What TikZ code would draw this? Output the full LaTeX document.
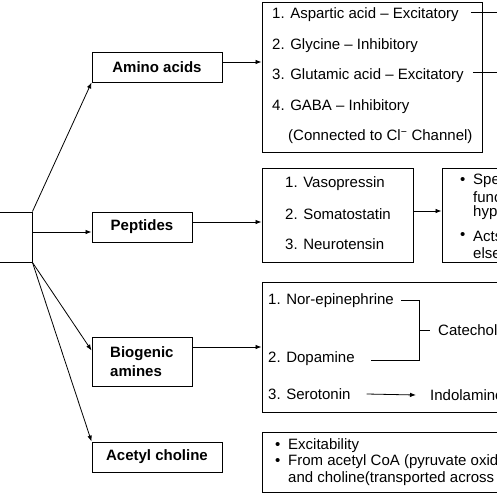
\documentclass[tikz,border=0pt]{standalone}
\usepackage{fontspec}
\setmainfont{Liberation Sans}
\usetikzlibrary{arrows.meta}
\begin{document}
\begin{tikzpicture}[x=1pt,y=-1pt,
  box/.style={draw,line width=0.9pt,inner sep=0pt},
  lbl/.style={font=\fontsize{15}{18}\selectfont\bfseries},
  txt/.style={font=\fontsize{15}{18}\selectfont,anchor=west,inner sep=0pt},
  arr/.style={line width=0.8pt,-{Latex[length=6pt,width=4.5pt]}},
  ln/.style={line width=0.8pt}]
\useasboundingbox (0,0) rectangle (497,497);
\clip (0,0) rectangle (497,497);
% main boxes
\node[box,minimum width=80,minimum height=50] (src) at (-8,237) {};
\node[box,lbl,minimum width=130,minimum height=30] (amino) at (157,67) {Amino acids};
\node[box,lbl,minimum width=100,minimum height=30] (pep) at (142,227) {Peptides};
\node[box,minimum width=100,minimum height=49] (bio) at (142,361.5) {};
\node[lbl,anchor=west,inner sep=0pt,align=left,font=\fontsize{15}{19}\selectfont\bfseries] (biot) at (110,362) {Biogenic\\amines};
\node[box,lbl,minimum width=130,minimum height=30] (ach) at (157,457) {Acetyl choline};
% list boxes
\node[box,minimum width=220,minimum height=150] (L1) at (372,77) {};
\node[box,minimum width=151,minimum height=94] (L2) at (337.5,215) {};
\node[box,minimum width=198,minimum height=94] (R2) at (541,215) {};
\node[box,minimum width=358,minimum height=130] (L3) at (441,347) {};
\node[box,minimum width=458,minimum height=60] (L4) at (491,462) {};
% amino list
\node[txt] (a1) at (272,15) {1. Aspartic acid – Excitatory};
\node[txt] (a2) at (272,46) {2. Glycine – Inhibitory};
\node[txt] (a3) at (272,76) {3. Glutamic acid – Excitatory};
\node[txt] (a4) at (272,107) {4. GABA – Inhibitory};
\node[txt] (a5) at (288,137) {(Connected to Cl\textsuperscript{−} Channel)};
% peptide list
\node[txt] (p1) at (285,184) {1. Vasopressin};
\node[txt] (p2) at (285,214) {2. Somatostatin};
\node[txt] (p3) at (285,244) {3. Neurotensin};
% peptide notes
\node[txt] (rb1) at (460,181) {•};
\node[txt] (r1) at (473,181) {Specific};
\node[txt] (r2) at (473,197) {functions in};
\node[txt] (r3) at (473,213) {hypothalamus};
\node[txt] (rb2) at (460,236) {•};
\node[txt] (r4) at (473,236) {Acts};
\node[txt] (r5) at (473,253) {elsewhere};
% amine list
\node[txt] (b1) at (268,301) {1. Nor-epinephrine};
\node[txt] (b2) at (268,359) {2. Dopamine};
\node[txt] (b3) at (268,394) {3. Serotonin};
\node[txt] (cat) at (438,330) {Catecholamines};
\node[txt] (ind) at (430,395) {Indolamines};
% acetyl choline notes
\node[txt] (cb1) at (275,446) {•};
\node[txt] (c1) at (288,446) {Excitability};
\node[txt] (cb2) at (275,462) {•};
\node[txt] (c2) at (288,462) {From acetyl CoA (pyruvate oxidation)};
\node[txt] (c3) at (288,479) {and choline(transported across the membrane)};
% connectors from source
\draw[arr] (src.north east) -- (amino.south west);
\draw[arr] ([yshift=5pt]src.east) -- ([yshift=5pt]src.east -| pep.west);
\draw[arr] (src.south east) -- ([yshift=11pt]bio.west);
\draw[arr] (src.south east) -- (ach.north west);
% connectors to lists
\draw[arr] ([yshift=5pt]amino.east) -- ([yshift=5pt]amino.east -| L1.west);
\draw[arr] ([yshift=5pt]pep.east) -- ([yshift=5pt]pep.east -| L2.west);
\draw[arr] ([yshift=4pt]L2.east) -- ([yshift=4pt]L2.east -| R2.west);
\draw[arr] ([yshift=14.5pt]bio.east) -- ([yshift=14.5pt]bio.east -| L3.west);
% excitatory lines
\coordinate (xr) at (510,0);
\draw[ln] ([xshift=12pt,yshift=3pt]a1.east) -- ([yshift=3pt]a1.east -| xr);
\draw[ln] ([xshift=9pt,yshift=4pt]a3.east) -- ([yshift=4pt]a3.east -| xr);
% catecholamine bracket
\coordinate (bt) at (419,300);
\coordinate (bb) at (419,360);
\coordinate (bm) at (419,330);
\draw[ln] ([xshift=7pt]b1.east |- bt) -- (bt) -- (bb) -- ([xshift=16pt]b2.east |- bb);
\draw[ln] (bm) -- ([xshift=-8pt]cat.west);
% serotonin arrow
\draw[arr] ([xshift=16pt]b3.east) -- ([xshift=-14pt]ind.west);
\end{tikzpicture}
\end{document}
